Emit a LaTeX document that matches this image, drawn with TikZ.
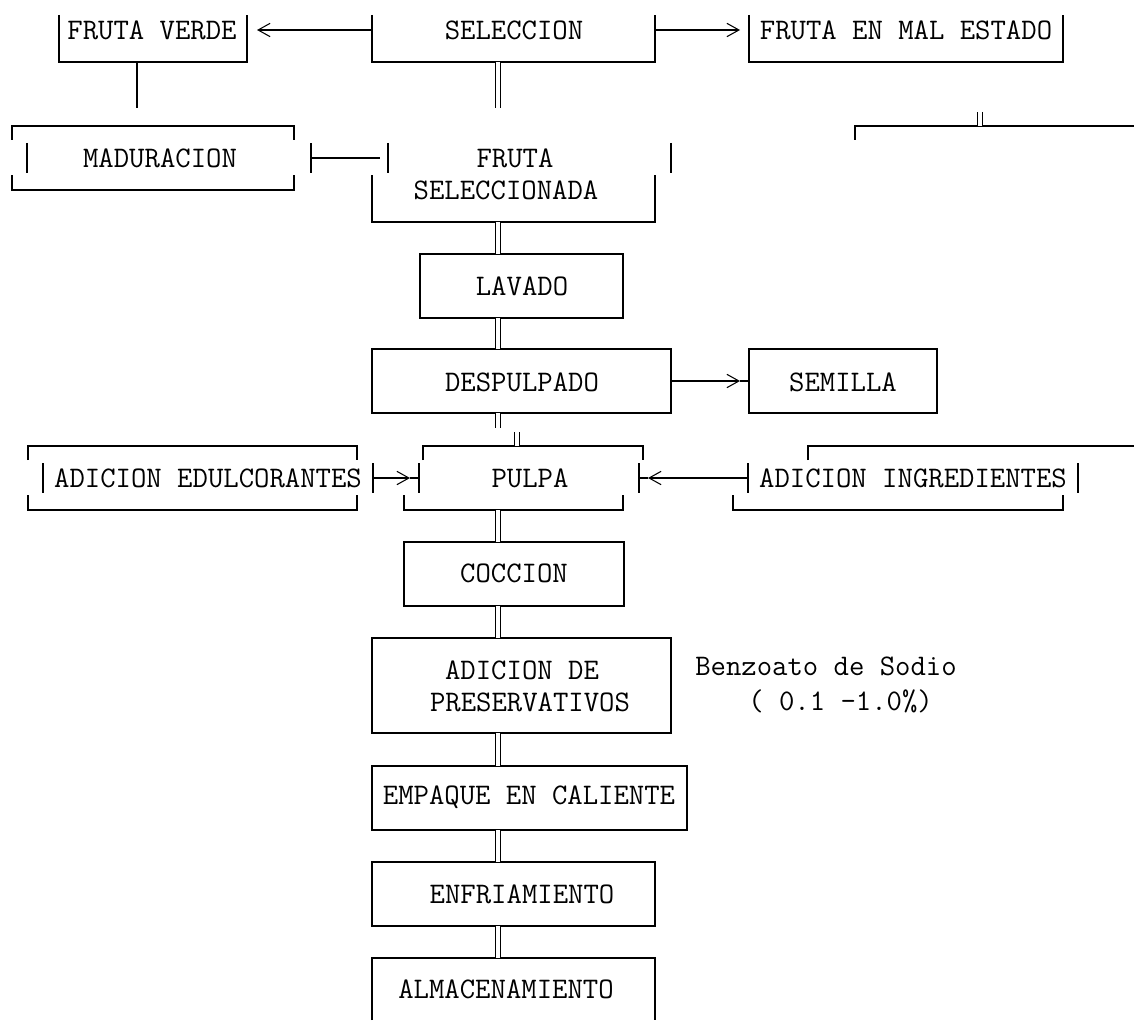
\documentclass[tikz,border=0pt]{standalone}
\usepackage{fontspec}
\usetikzlibrary{arrows.meta,fit}

\tikzset{
  txt/.style={font=\ttfamily\fontsize{22.4pt}{26pt}\selectfont, inner sep=0pt},
  hole/.style={inner sep=0pt, outer sep=0pt},
  frame/.style={hole, draw, line width=1.5pt},
  rule/.style={line width=1.5pt},
  dbl/.style={double, line width=1pt, double distance=2.6pt},
  chev/.style={rule, -{Straight Barb[length=9pt,width=10pt,line width=0.8pt]}},
  barchev/.style={rule, {Bar[width=22pt]}-{Straight Barb[length=9pt,width=10pt,line width=0.8pt]}},
  barline/.style={rule, {Bar[width=22pt]}-},
}

\begin{document}
\begin{tikzpicture}[x=0.75pt,y=-0.75pt]
  \useasboundingbox (0,0) rectangle (1134,1020);

  % boxes
  \node[hole, fit={(59,15) (247,62)}] (bverde) {};
  \node[hole, fit={(372,15) (655,62)}] (bsel) {};
  \node[hole, fit={(749,15) (1063,62)}] (bmal) {};
  \node[hole, fit={(12,126) (294,190)}] (bmad) {};
  \node[hole, fit={(372,143) (655,222)}] (bfsel) {};
  \node[frame, fit={(420,254) (623,318)}] (blav) {};
  \node[frame, fit={(372,349) (671,413)}] (bdesp) {};
  \node[frame, fit={(749,349) (937,413)}] (bsem) {};
  \node[hole, fit={(28,446) (357,510)}] (bedul) {};
  \node[hole, fit={(404,446) (643,510)}] (bpulpa) {};
  \node[hole, fit={(733,446) (1134,510)}] (bingr) {};
  \node[frame, fit={(404,542) (624,606)}] (bcocc) {};
  \node[frame, fit={(372,638) (671,733)}] (bpres) {};
  \node[frame, fit={(372,766) (687,830)}] (bemp) {};
  \node[frame, fit={(372,862) (655,926)}] (benf) {};
  \node[hole, fit={(372,958) (655,1020)}] (balm) {};

  % open outlines
  \draw[rule] (bverde.north west) |- (bverde.south east) -- (bverde.north east);
  \draw[rule] (bsel.north west) |- (bsel.south east) -- (bsel.north east);
  \draw[rule] (bmal.north west) |- (bmal.south east) -- (bmal.north east);
  \draw[rule] (12,140) |- (294,126) -- (294,140);
  \draw[rule] (27,143) -- (27,173);
  \draw[rule] (12,175) |- (294,190) -- (294,175);
  \draw[rule] (388,143) -- (388,173);
  \draw[rule] (671,143) -- (671,173);
  \draw[rule] (372,175) |- (655,222) -- (655,175);
  \draw[rule] (855,140) |- (1134,126);
  \draw[rule] (28,460) |- (357,446) -- (357,460);
  \draw[rule] (43,463) -- (43,493);
  \draw[rule] (28,495) |- (357,510) -- (357,495);
  \draw[rule] (423,460) |- (643,446) -- (643,460);
  \draw[rule] (419,463) -- (419,493);
  \draw[rule] (639,463) -- (639,493);
  \draw[rule] (404,495) |- (623,510) -- (623,495);
  \draw[rule] (808,460) |- (1134,446);
  \draw[rule] (748,463) -- (748,493);
  \draw[rule] (1078,463) -- (1078,493);
  \draw[rule] (733,495) |- (1063,510) -- (1063,495);
  \draw[rule] (balm.south west) |- (balm.north east) -- (balm.south east);

  % labels
  \node[txt] (verde) at (152,30) {FRUTA VERDE};
  \node[txt] (sel) at (514,30) {SELECCION};
  \node[txt] (mal) at (906,30) {FRUTA EN MAL ESTADO};
  \node[txt] (mad) at (160,158) {MADURACION};
  \node[txt] (fsel1) at (515,158) {FRUTA};
  \node[txt] (fsel2) at (506,190) {SELECCIONADA};
  \node[txt] (lav) at (522,286) {LAVADO};
  \node[txt] (desp) at (522,382) {DESPULPADO};
  \node[txt] (sem) at (843,382) {SEMILLA};
  \node[txt] (edul) at (208,478) {ADICION EDULCORANTES};
  \node[txt] (pulpa) at (530,478) {PULPA};
  \node[txt] (ingr) at (913,478) {ADICION INGREDIENTES};
  \node[txt] (cocc) at (514,573) {COCCION};
  \node[txt] (pres1) at (522,670) {ADICION DE};
  \node[txt] (pres2) at (530,702) {PRESERVATIVOS};
  \node[txt, anchor=base west] (benz) at (695,675) {Benzoato de Sodio};
  \node[txt, anchor=base west] (dosis) at (748,710) {( 0.1 -1.0\%)};
  \node[txt] (emp) at (529,797) {EMPAQUE EN CALIENTE};
  \node[txt] (enf) at (522,894) {ENFRIAMIENTO};
  \node[txt] (alm) at (506,989) {ALMACENAMIENTO};

  % connector ends
  \coordinate (spine) at (498,0);
  \coordinate (vtail) at (137,108);
  \coordinate (stail) at (498,108);
  \coordinate (dtail) at (498,428);
  \coordinate (phead) at (517,432);
  \coordinate (otick) at (980,112);
  \coordinate (otop) at (980,126);
  \coordinate (vtip) at (257,30);
  \coordinate (mtip) at (740,30);
  \coordinate (mstart) at (310,158);
  \coordinate (mend) at (380,158);
  \coordinate (stip) at (740,381);
  \coordinate (estart) at (372,478);
  \coordinate (etip) at (410,478);
  \coordinate (pleft) at (419,478);
  \coordinate (ileft) at (748,478);
  \coordinate (itip) at (648,478);
  \coordinate (pright) at (639,478);

  % flow
  \draw[rule] (bverde.south -| vtail) -- (vtail);
  \draw[dbl] (bsel.south -| spine) -- (stail);
  \draw[dbl] (bfsel.south -| spine) -- (blav.north -| spine);
  \draw[dbl] (blav.south -| spine) -- (bdesp.north -| spine);
  \draw[dbl] (bdesp.south -| spine) -- (dtail);
  \draw[dbl] (phead) -- (bpulpa.north -| phead);
  \draw[dbl] (bpulpa.south -| spine) -- (bcocc.north -| spine);
  \draw[dbl] (bcocc.south -| spine) -- (bpres.north -| spine);
  \draw[dbl] (bpres.south -| spine) -- (bemp.north -| spine);
  \draw[dbl] (bemp.south -| spine) -- (benf.north -| spine);
  \draw[dbl] (benf.south -| spine) -- (balm.north -| spine);
  \draw[dbl] (otick) -- (otop);

  % side branches
  \draw[chev] (bsel.west |- vtip) -- (vtip);
  \draw[chev] (bsel.east |- mtip) -- (mtip);
  \draw[barline] (mstart) -- (mend);
  \draw[chev] (bdesp.east) -- (stip);
  \draw[rule] (stip) -- (bsem.west);
  \draw[barchev] (estart) -- (etip);
  \draw[rule] (etip) -- (pleft);
  \draw[chev] (ileft) -- (itip);
  \draw[rule] (itip) -- (pright);
\end{tikzpicture}
\end{document}
